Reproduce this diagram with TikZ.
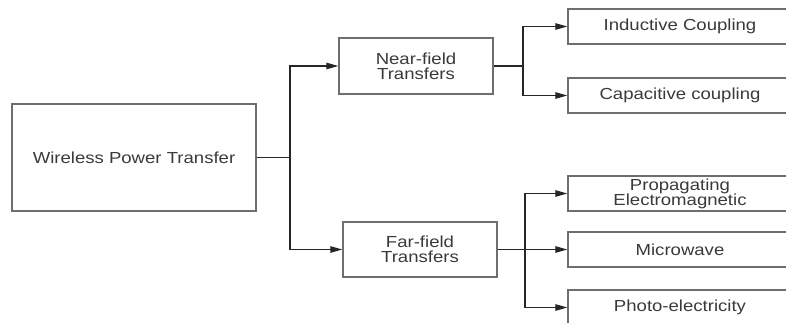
\documentclass[tikz,border=0pt]{standalone}
\usepackage{fontspec}
\setmainfont{Liberation Sans}[FakeStretch=1.16]
\usetikzlibrary{arrows.meta}
\definecolor{boxgray}{HTML}{6E6E6E}
\definecolor{txtgray}{HTML}{3A3A3A}
\tikzset{
  box/.style={draw=boxgray, line width=1.4pt, rectangle, inner sep=0pt,
    text=txtgray, align=center, font=\fontsize{16}{15}\selectfont},
  conn/.style={draw=black!85, line width=1.1pt},
  arr/.style={conn, -{Triangle[length=12pt,width=6.5pt]}}
}
\begin{document}
\begin{tikzpicture}[x=1pt,y=-1pt]
\useasboundingbox (0,0) rectangle (786,322);
\clip (0,0) rectangle (786,322);
\fill[white] (0,0) rectangle (786,322);
% main boxes
\node[box, minimum width=244pt, minimum height=107pt] (wpt) at (134,157.5) {Wireless Power Transfer};
\node[box, minimum width=154pt, minimum height=56pt] (near) at (416,66) {Near-field\\Transfers};
\node[box, minimum width=154pt, minimum height=55pt] (far) at (420,249.5) {Far-field\\Transfers};
% leaf boxes
\node[box, minimum width=224pt, minimum height=35pt] (ind) at (680,26.5) {Inductive Coupling};
\node[box, minimum width=224pt, minimum height=35pt] (cap) at (680,95.5) {Capacitive coupling};
\node[box, minimum width=224pt, minimum height=35pt] (prop) at (680,193.5) {Propagating\\Electromagnetic};
\node[box, minimum width=224pt, minimum height=35pt] (mw) at (680,249.5) {Microwave};
\node[box, minimum width=224pt, minimum height=35pt] (photo) at (680,307.5) {Photo-electricity};
% junctions
\coordinate (j1) at (290,157.5);
\coordinate (j2) at (523,66);
\coordinate (j3) at (525,249.5);
% connectors
\draw[conn] (wpt.east) -- (j1);
\draw[arr] (j1) |- (near.west);
\draw[arr] (j1) |- (far.west);
\draw[conn] (near.east) -- (j2);
\draw[arr] (j2) |- (ind.west);
\draw[arr] (j2) |- (cap.west);
\draw[conn] (far.east) -- (j3);
\draw[arr] (j3) |- (prop.west);
\draw[arr] (j3) -- (mw.west);
\draw[arr] (j3) |- (photo.west);
\end{tikzpicture}
\end{document}
